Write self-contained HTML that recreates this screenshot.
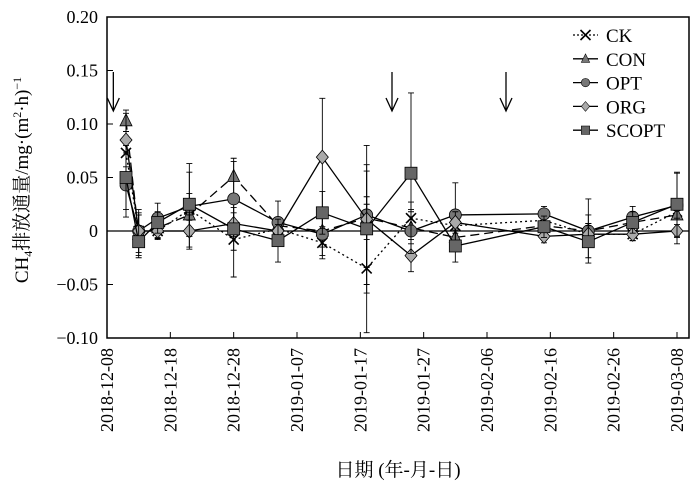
<!DOCTYPE html>
<html><head><meta charset="utf-8"><style>
body{margin:0;background:#fff}
svg text{font-family:"Liberation Serif","Noto Serif CJK SC",serif;fill:#000}
</style></head><body>
<svg id="chart" width="700" height="490" viewBox="0 0 700 490" xmlns="http://www.w3.org/2000/svg">
<g id="grid"></g><g id="series"></g><g id="axes"></g>
</svg>
<script>
const days=[3,5,8,13,20,27,34,41,48,55,69,76,83,90];
const seriesNames=["CK","CON","OPT","ORG","SCOPT"];
const ckVals=[0.073,0,0.0,0.02,-0.008,0.002,-0.011,-0.035,0.012,0.005,0.01,-0.003,-0.003,0.018];
const conVals=[0.103,-0.003,0.003,0.015,0.051,0.005,0,0.012,0.003,-0.006,0.005,0,0.008,0.015];
const optVals=[0.043,0,0.012,0.023,0.030,0.008,-0.003,0.015,0,0.015,0.016,0,0.013,0.024];
const orgVals=[0.085,0,0,0,0.007,0,0.069,0.011,-0.023,0.008,-0.005,-0.003,-0.003,0];
const scoptVals=[0.050,-0.010,0.008,0.025,0.002,-0.009,0.017,0.002,0.054,-0.014,0.004,-0.010,0.008,0.025];
const ckErr=[0.02,0.015,0.008,0.01,0.035,0.008,0.015,0.06,0.015,0.01,0.008,0.01,0.006,0.012];
const conErr=[0.01,0.02,0.01,0.02,0.017,0.008,0.015,0.02,0.015,0.01,0.006,0.015,0.008,0.012];
const optErr=[0.03,0.02,0.014,0.04,0.035,0.02,0.02,0.065,0.02,0.03,0.007,0.03,0.01,0.03];
const orgErr=[0.025,0.015,0.006,0.015,0.01,0.006,0.055,0.045,0.015,0.01,0.006,0.01,0.006,0.012];
const scoptErr=[0.03,0.015,0.01,0.03,0.02,0.02,0.02,0.06,0.075,0.015,0.01,0.015,0.01,0.03];
const yTicks=[-0.10,-0.05,0,0.05,0.10,0.15,0.20];
const yTickLabels=["\u22120.10","\u22120.05","0","0.05","0.10","0.15","0.20"];
const xTickDays=[0,10,20,30,40,50,60,70,80,90];
const xTickLabels=["2018-12-08","2018-12-18","2018-12-28","2019-01-07","2019-01-17","2019-01-27","2019-02-06","2019-02-16","2019-02-26","2019-03-08"];
const arrowDays=[1,45,63];

const L=107,R=689,T=17,B=338;
const x=d=>107+d*(677-107)/90;
const y=v=>231-v*1070;
const NS="http://www.w3.org/2000/svg";
function mk(tag,attrs,parent){const e=document.createElementNS(NS,tag);for(const k in attrs)e.setAttribute(k,attrs[k]);parent.appendChild(e);return e;}
const axes=document.getElementById('axes'),sg=document.getElementById('series'),grid=document.getElementById('grid');

const zl=mk('line',{x1:L,x2:R,y1:y(0),y2:y(0),stroke:'#000','stroke-width':1.2},grid);



const styles={
 CK:{vals:ckVals,err:ckErr,dash:'2,3',marker:'x',fill:'none'},
 CON:{vals:conVals,err:conErr,dash:'9,5',marker:'tri',fill:'#777'},
 OPT:{vals:optVals,err:optErr,dash:'',marker:'circle',fill:'#777'},
 ORG:{vals:orgVals,err:orgErr,dash:'',marker:'diamond',fill:'#aaa'},
 SCOPT:{vals:scoptVals,err:scoptErr,dash:'',marker:'square',fill:'#666'}
};
function marker(type,cx,cy,fill,parent){
 let m;
 if(type==='x'){m=mk('path',{d:`M${cx-5},${cy-5}L${cx+5},${cy+5}M${cx-5},${cy+5}L${cx+5},${cy-5}`,stroke:'#000','stroke-width':1.6,fill:'none'},parent);}
 else if(type==='tri'){m=mk('polygon',{points:`${cx},${cy-7} ${cx-6},${cy+5} ${cx+6},${cy+5}`,fill:fill,stroke:'#000','stroke-width':0.8},parent);}
 else if(type==='circle'){m=mk('circle',{cx:cx,cy:cy,r:6,fill:fill,stroke:'#000','stroke-width':0.8},parent);}
 else if(type==='diamond'){m=mk('polygon',{points:`${cx},${cy-7} ${cx+6},${cy} ${cx},${cy+7} ${cx-6},${cy}`,fill:fill,stroke:'#000','stroke-width':0.8},parent);}
 else {m=mk('rect',{x:cx-6,y:cy-6,width:12,height:12,fill:fill,stroke:'#000','stroke-width':0.8},parent);}
 return m;
}
seriesNames.forEach(name=>{
 const s=styles[name];
 const g=mk('g',{},sg);
 
 
 s.vals.forEach((v,i)=>{
  const cx=x(days[i]),e=s.err[i];
  const eb=mk('path',{d:`M${cx},${y(v+e)}V${y(v-e)}M${cx-3},${y(v+e)}H${cx+3}M${cx-3},${y(v-e)}H${cx+3}`,stroke:'#000','stroke-width':0.9,fill:'none'},g);
  
  
 });
 const d=s.vals.map((v,i)=>(i?'L':'M')+x(days[i])+','+y(v)).join('');
 const ln=mk('path',{d:d,fill:'none',stroke:'#000','stroke-width':1.3,'stroke-dasharray':s.dash},g);
 
 
 s.vals.forEach((v,i)=>{
  const m=marker(s.marker,x(days[i]),y(v),s.fill,g);
  
  
 });
});

const fr=mk('rect',{x:L,y:T,width:R-L,height:B-T,fill:'none',stroke:'#000','stroke-width':1.5},axes);


yTicks.forEach((v,i)=>{
 const t=mk('line',{x1:L,x2:L+6,y1:y(v),y2:y(v),stroke:'#000','stroke-width':1},axes);
 
 
 const tx=mk('text',{x:98,y:y(v)+6,'text-anchor':'end','font-size':18},axes);
 tx.textContent=yTickLabels[i];
 
 
});
xTickDays.forEach((d,i)=>{
 const t=mk('line',{x1:x(d),x2:x(d),y1:B,y2:B-6,stroke:'#000','stroke-width':1},axes);
 
 
 const tx=mk('text',{x:0,y:0,'text-anchor':'end','font-size':18,transform:`translate(${x(d)+6},${B+10}) rotate(-90)`},axes);
 tx.textContent=xTickLabels[i];
 
 
});
arrowDays.forEach(d=>{
 const cx=x(d);
 const a=mk('path',{d:`M${cx},72V111M${cx-6},98L${cx},111L${cx+6},98`,stroke:'#000','stroke-width':1.3,fill:'none'},axes);
 
 
});
seriesNames.forEach((name,i)=>{
 const s=styles[name],ly=35+i*23.8;
 const g=mk('g',{},axes);
 
 
 mk('line',{x1:573,x2:598,y1:ly,y2:ly,stroke:'#000','stroke-width':1.3,'stroke-dasharray':name==='CK'?'2,2':''},g);
 const m=marker(s.marker,585.5,ly,s.fill,g);
 if(s.marker!=='x')m.setAttribute('transform',`translate(${585.5*0.3},${ly*0.3}) scale(0.7)`);
 const tx=mk('text',{x:606,y:ly+7,'font-size':19},g);
 tx.textContent=name;
});
const yl=mk('text',{x:0,y:0,'text-anchor':'middle','font-size':19,transform:'translate(28,180) rotate(-90)'},axes);
yl.innerHTML='CH<tspan font-size="12" dy="4">4</tspan><tspan dy="-4">排放通量/mg·(m</tspan><tspan font-size="12" dy="-7">2</tspan><tspan dy="7">·h)</tspan><tspan font-size="12" dy="-7">−1</tspan>';


const xl=mk('text',{x:398,y:476,'text-anchor':'middle','font-size':19},axes);
xl.textContent='日期 (年-月-日)';


</script>
</body></html>
